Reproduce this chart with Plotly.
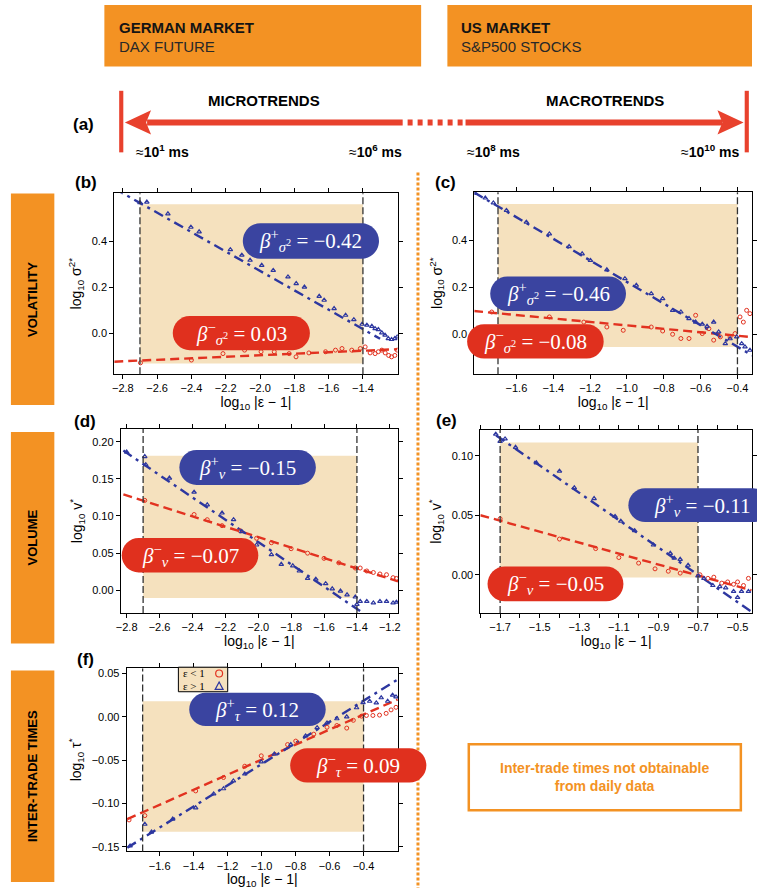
import plotly.graph_objects as go

W, H = 757, 889

# ---------------- data ----------------
# panel (b) German volatility
b_plus_x = [-2.70, -2.66, -2.537, -2.403, -2.355, -2.173, -2.106, -2.058, -1.99, -1.923, -1.837, -1.789, -1.741, -1.655, -1.626, -1.568, -1.501, -1.453, -1.405, -1.377, -1.348, -1.329, -1.31, -1.29, -1.271, -1.252, -1.233, -1.214, -1.2]
b_plus_y = [0.566, 0.569, 0.518, 0.46, 0.44, 0.363, 0.339, 0.317, 0.295, 0.273, 0.245, 0.216, 0.201, 0.161, 0.144, 0.108, 0.079, 0.06, 0.04, 0.036, 0.031, 0.021, 0.017, 0.003, -0.007, -0.022, -0.026, -0.022, -0.015]
b_minus_x = [-2.697, -2.4, -2.216, -2.09, -1.994, -1.917, -1.83, -1.79, -1.715, -1.618, -1.56, -1.522, -1.465, -1.415, -1.387, -1.358, -1.329, -1.31, -1.29, -1.27, -1.25, -1.233, -1.214, -1.2]
b_minus_y = [-0.127, -0.115, -0.087, -0.072, -0.079, -0.079, -0.087, -0.101, -0.084, -0.079, -0.072, -0.065, -0.072, -0.065, -0.058, -0.084, -0.087, -0.079, -0.072, -0.084, -0.095, -0.101, -0.095, -0.072]
b_fit_plus_x = [-2.85, -1.3]
b_fit_plus_y = [0.628, -0.023]
b_fit_minus_x = [-2.85, -1.2]
b_fit_minus_y = [-0.122, -0.068]

# panel (c) US volatility
c_plus_x = [-1.823, -1.769, -1.725, -1.654, -1.546, -1.421, -1.314, -1.243, -1.198, -1.109, -1.011, -0.949, -0.868, -0.806, -0.752, -0.707, -0.663, -0.627, -0.591, -0.565, -0.529, -0.502, -0.466, -0.44, -0.404, -0.377, -0.359, -0.332]
c_plus_y = [0.601, 0.581, 0.56, 0.528, 0.478, 0.428, 0.374, 0.343, 0.315, 0.275, 0.237, 0.209, 0.173, 0.152, 0.102, 0.095, 0.067, 0.052, 0.043, 0.034, 0.052, 0.01, -0.04, -0.019, -0.011, -0.04, -0.054, -0.068]
c_minus_x = [-1.734, -1.421, -1.234, -1.109, -1.02, -0.868, -0.806, -0.752, -0.707, -0.663, -0.627, -0.591, -0.555, -0.529, -0.493, -0.44, -0.413, -0.386, -0.368, -0.35, -0.332]
c_minus_y = [0.095, 0.074, 0.052, 0.031, 0.017, 0.031, 0.014, 0.0, -0.018, -0.018, 0.081, 0.003, 0.024, -0.025, -0.011, -0.011, 0.003, 0.074, 0.052, 0.102, 0.088]
c_fit_plus_x = [-1.83, -0.32]
c_fit_plus_y = [0.605, -0.09]
c_fit_minus_x = [-1.83, -0.32]
c_fit_minus_y = [0.099, -0.012]

# panel (d) German volume
d_plus_x = [-2.8, -2.69, -2.684, -2.54, -2.39, -2.31, -2.22, -2.15, -2.1, -2.01, -1.92, -1.86, -1.79, -1.75, -1.7, -1.65, -1.59, -1.55, -1.5, -1.46, -1.41, -1.4, -1.38, -1.34, -1.30, -1.26, -1.22, -1.18, -1.16]
d_plus_y = [0.186, 0.18, 0.169, 0.151, 0.132, 0.115, 0.104, 0.095, 0.079, 0.061, 0.048, 0.035, 0.033, 0.026, 0.016, 0.015, 0.009, 0.002, -0.001, -0.006, -0.009, -0.019, -0.015, -0.015, -0.017, -0.015, -0.015, -0.017, -0.016]
d_minus_x = [-2.69, -2.39, -2.31, -2.22, -2.11, -2.01, -1.92, -1.80, -1.70, -1.60, -1.51, -1.41, -1.38, -1.34, -1.30, -1.26, -1.22, -1.18, -1.16]
d_minus_y = [0.121, 0.102, 0.095, 0.087, 0.08, 0.07, 0.064, 0.056, 0.05, 0.043, 0.037, 0.03, 0.03, 0.026, 0.024, 0.022, 0.021, 0.017, 0.016]
d_fit_plus_x = [-2.82, -1.3]
d_fit_plus_y = [0.188, -0.040]
d_fit_minus_x = [-2.82, -1.15]
d_fit_minus_y = [0.129, 0.012]

# panel (e) US volume
e_plus_x = [-1.722, -1.70, -1.675, -1.622, -1.517, -1.40, -1.325, -1.225, -1.119, -1.09, -1.02, -0.925, -0.84, -0.82, -0.79, -0.75, -0.70, -0.67, -0.625, -0.59, -0.56, -0.52, -0.50, -0.48, -0.445]
e_plus_y = [0.118, 0.112, 0.114, 0.107, 0.094, 0.087, 0.073, 0.064, 0.049, 0.045, 0.037, 0.025, 0.018, 0.014, 0.013, 0.008, -0.001, -0.003, -0.009, -0.01, -0.011, -0.014, -0.019, -0.014, -0.014]
e_minus_x = [-1.70, -1.40, -1.217, -1.10, -1.0, -0.917, -0.85, -0.79, -0.69, -0.65, -0.62, -0.58, -0.55, -0.52, -0.50, -0.47, -0.445]
e_minus_y = [0.047, 0.030, 0.022, 0.0145, 0.0098, 0.005, 0.003, 0.0014, 0.0, -0.003, -0.002, -0.007, -0.006, -0.008, -0.006, -0.009, -0.003]
e_fit_plus_x = [-1.72, -0.43]
e_fit_plus_y = [0.117, -0.031]
e_fit_minus_x = [-1.8, -0.43]
e_fit_minus_y = [0.050, -0.013]

# panel (f) German inter-trade times
f_plus_x = [-1.774, -1.687, -1.648, -1.523, -1.388, -1.282, -1.224, -1.166, -1.099, -1.002, -0.925, -0.828, -0.741, -0.673, -0.615, -0.557, -0.499, -0.441, -0.403, -0.364, -0.325, -0.296, -0.258, -0.229, -0.209]
f_plus_y = [-0.149, -0.124, -0.133, -0.118, -0.105, -0.089, -0.083, -0.074, -0.066, -0.052, -0.043, -0.032, -0.022, -0.0125, -0.007, -0.0022, 0.0, 0.0105, 0.0163, 0.018, 0.016, 0.022, 0.018, 0.025, 0.023]
f_minus_x = [-1.78, -1.687, -1.388, -1.224, -1.099, -1.002, -0.847, -0.799, -0.693, -0.615, -0.557, -0.499, -0.46, -0.412, -0.383, -0.345, -0.306, -0.267, -0.238, -0.209]
f_minus_y = [-0.119, -0.114, -0.0855, -0.070, -0.057, -0.045, -0.032, -0.028, -0.020, -0.012, -0.010, -0.013, -0.004, 0.0008, 0.0016, 0.0016, 0.002, 0.004, 0.008, 0.011]
f_fit_plus_x = [-1.79, -0.2]
f_fit_plus_y = [-0.151, 0.043]
f_fit_minus_x = [-1.79, -0.2]
f_fit_minus_y = [-0.118, 0.020]

# fit ranges (x) and shaded band (y)
fit_range = {"b": [-2.7, -1.4], "c": [-1.7, -0.4], "d": [-2.7, -1.4], "e": [-1.7, -0.7], "f": [-1.7, -0.4]}
band_y = {"b": [-0.13, 0.56], "c": [-0.054, 0.556], "d": [-0.0103, 0.181], "e": [-0.0023, 0.111], "f": [-0.1327, 0.018]}

# tick values
x_ticks = {
    "b": [-2.8, -2.6, -2.4, -2.2, -2.0, -1.8, -1.6, -1.4],
    "c": [-1.6, -1.4, -1.2, -1.0, -0.8, -0.6, -0.4],
    "d": [-2.8, -2.6, -2.4, -2.2, -2.0, -1.8, -1.6, -1.4, -1.2],
    "e": [-1.7, -1.5, -1.3, -1.1, -0.9, -0.7, -0.5],
    "f": [-1.6, -1.4, -1.2, -1.0, -0.8, -0.6, -0.4],
}
e_minor_ticks = [-1.8, -1.6, -1.4, -1.2, -1.0, -0.8, -0.6]
y_ticks = {
    "b": [0.0, 0.2, 0.4],
    "c": [0.0, 0.2, 0.4],
    "d": [0.0, 0.05, 0.10, 0.15, 0.20],
    "e": [0.0, 0.05, 0.10],
    "f": [-0.15, -0.10, -0.05, 0.0, 0.05],
}

# exponent labels
beta_plus = {"b": "−0.42", "c": "−0.46", "d": "−0.15", "e": "−0.11", "f": "0.12"}
beta_minus = {"b": "0.03", "c": "−0.08", "d": "−0.07", "e": "−0.05", "f": "0.09"}
beta_sub = {"b": "<i>σ</i><sup>2</sup>", "c": "<i>σ</i><sup>2</sup>", "d": "<i>v</i>", "e": "<i>v</i>", "f": "<i>τ</i>"}

# header / label text
header_titles = ["GERMAN MARKET", "US MARKET"]
header_subs = ["DAX FUTURE", "S&P500 STOCKS"]
row_labels = ["VOLATILITY", "VOLUME", "INTER-TRADE TIMES"]
time_labels = ["≈<b>10<sup>1</sup> ms</b>", "≈<b>10<sup>6</sup> ms</b>", "≈<b>10<sup>8</sup> ms</b>", "≈<b>10<sup>10</sup> ms</b>"]

# ---------------- style ----------------
BLUE = "rgb(45,55,160)"
RED = "rgb(226,50,32)"
PILL_BLUE = "rgb(58,68,160)"
PILL_RED = "rgb(224,48,30)"
SHADE = "rgb(245,225,190)"
ORANGE = "rgb(243,146,35)"
ARROW = "rgb(232,65,45)"
SANS = "Liberation Sans"
SERIF = "Liberation Serif"


def X(px):
    return px / W


def Y(py):
    return 1 - py / H


def fmt(v, nd):
    s = ("%." + str(nd) + "f") % abs(v)
    return ("−" + s) if v < -1e-9 else s


# panel geometry in pixels: (x0, x1, y0, y1)
panels = {
    "b": dict(px=(110.7, 398.0, 192.7, 374.0), xr=[-2.85, -1.197], yr=[-0.176, 0.607], ax="", ynd=1),
    "c": dict(px=(475.7, 757.0, 191.7, 374.0), xr=[-1.828, -0.321], yr=[-0.170, 0.6055], ax="2", ynd=1),
    "d": dict(px=(117.3, 398.3, 429.0, 613.3), xr=[-2.836, -1.15], yr=[-0.0304, 0.217], ax="3", ynd=2),
    "e": dict(px=(481.7, 757.0, 430.0, 613.3), xr=[-1.8, -0.427], yr=[-0.032, 0.1215], ax="4", ynd=2),
    "f": dict(px=(123.3, 398.3, 669.0, 852.3), xr=[-1.794, -0.197], yr=[-0.1553, 0.0558], ax="5", ynd=2),
}

series = {
    "b": (b_plus_x, b_plus_y, b_minus_x, b_minus_y, b_fit_plus_x, b_fit_plus_y, b_fit_minus_x, b_fit_minus_y),
    "c": (c_plus_x, c_plus_y, c_minus_x, c_minus_y, c_fit_plus_x, c_fit_plus_y, c_fit_minus_x, c_fit_minus_y),
    "d": (d_plus_x, d_plus_y, d_minus_x, d_minus_y, d_fit_plus_x, d_fit_plus_y, d_fit_minus_x, d_fit_minus_y),
    "e": (e_plus_x, e_plus_y, e_minus_x, e_minus_y, e_fit_plus_x, e_fit_plus_y, e_fit_minus_x, e_fit_minus_y),
    "f": (f_plus_x, f_plus_y, f_minus_x, f_minus_y, f_fit_plus_x, f_fit_plus_y, f_fit_minus_x, f_fit_minus_y),
}

fig = go.Figure()
shapes = []
annotations = []

for key, p in panels.items():
    ax = p["ax"]
    px_, py_, mx, my, fpx, fpy, fmx, fmy = series[key]
    xa, ya = "x" + ax, "y" + ax
    fig.add_trace(go.Scatter(x=fmx, y=fmy, mode="lines", xaxis=xa, yaxis=ya,
                             line=dict(color=RED, width=2.4, dash="9px,5px"), showlegend=False))
    fig.add_trace(go.Scatter(x=fpx, y=fpy, mode="lines", xaxis=xa, yaxis=ya,
                             line=dict(color=BLUE, width=2.4, dash="10px,5px,3px,5px"), showlegend=False))
    fig.add_trace(go.Scatter(x=mx, y=my, mode="markers", xaxis=xa, yaxis=ya,
                             marker=dict(symbol="circle-open", size=4, color=RED, line=dict(width=1)),
                             showlegend=False))
    fig.add_trace(go.Scatter(x=px_, y=py_, mode="markers", xaxis=xa, yaxis=ya,
                             marker=dict(symbol="triangle-up-open", size=4, color=BLUE, line=dict(width=1.2)),
                             showlegend=False))
    shapes.append(dict(type="rect", xref=xa, yref=ya, x0=fit_range[key][0], x1=fit_range[key][1],
                       y0=band_y[key][0], y1=band_y[key][1], fillcolor=SHADE, line=dict(width=0), layer="below"))
    for xv in fit_range[key]:
        shapes.append(dict(type="line", xref=xa, yref=ya + " domain", x0=xv, x1=xv, y0=0, y1=1,
                           line=dict(color="rgb(50,50,50)", width=1.3, dash="7px,3px"), layer="above"))

# ---------------- axes ----------------
common = dict(showline=True, linecolor="black", linewidth=1, mirror="ticks", ticks="outside",
              ticklen=4, tickcolor="black", tickwidth=1, showgrid=False, zeroline=False,
              tickfont=dict(family=SANS, size=11, color="black"))
xtitle = "log<sub>10</sub> |ε − 1|"
ytitles = {"b": "log<sub>10</sub> σ<sup>2*</sup>", "c": "log<sub>10</sub> σ<sup>2*</sup>",
           "d": "log<sub>10</sub> v<sup>*</sup>", "e": "log<sub>10</sub> v<sup>*</sup>",
           "f": "log<sub>10</sub> τ<sup>*</sup>"}

layout_axes = {}
for key, p in panels.items():
    ax = p["ax"]
    x0, x1, y0, y1 = p["px"]
    xd = dict(common, domain=[X(x0), min(X(x1), 1.0)], range=p["xr"], anchor="y" + ax,
              tickmode="array", tickvals=x_ticks[key], ticktext=[fmt(v, 1) for v in x_ticks[key]],
              title=dict(text=xtitle, font=dict(family=SANS, size=14, color="black"), standoff=2))
    if key == "e":
        xd["minor"] = dict(tickmode="array", tickvals=e_minor_ticks, ticks="outside", ticklen=4,
                           tickcolor="black", showgrid=False)
    yd = dict(common, domain=[Y(y1), Y(y0)], range=p["yr"], anchor="x" + ax,
              tickmode="array", tickvals=y_ticks[key], ticktext=[fmt(v, p["ynd"]) for v in y_ticks[key]],
              title=dict(text=ytitles[key], font=dict(family=SANS, size=14, color="black"), standoff=6))
    layout_axes["xaxis" + ax] = xd
    layout_axes["yaxis" + ax] = yd


# ---------------- decorations ----------------
def rect_px(x0, x1, y0, y1, fill=None, line=None, layer="above"):
    d = dict(type="rect", xref="paper", yref="paper", x0=X(x0), x1=X(x1), y0=Y(y1), y1=Y(y0),
             layer=layer)
    d["fillcolor"] = fill if fill else "rgba(0,0,0,0)"
    d["line"] = line if line else dict(width=0)
    return d


def path_px(cmds):
    out = []
    for c in cmds:
        if c[0] == "Z":
            out.append("Z")
        else:
            pts = c[1:]
            s = " ".join("%.5f,%.5f" % (X(pts[i]), Y(pts[i + 1])) for i in range(0, len(pts), 2))
            out.append(c[0] + " " + s)
    return " ".join(out)


def pill(x0, x1, y0, y1, color):
    r = (y1 - y0) / 2
    k = 0.5523 * r
    cy = (y0 + y1) / 2
    cxr = x1 - r
    cxl = x0 + r
    cmds = [
        ("M", cxl, y0), ("L", cxr, y0),
        ("C", cxr + k, y0, x1, cy - k, x1, cy),
        ("C", x1, cy + k, cxr + k, y1, cxr, y1),
        ("L", cxl, y1),
        ("C", cxl - k, y1, x0, cy + k, x0, cy),
        ("C", x0, cy - k, cxl - k, y0, cxl, y0),
        ("Z",),
    ]
    return dict(type="path", xref="paper", yref="paper", path=path_px(cmds), fillcolor=color,
                line=dict(width=0), layer="above")


def text_px(x, y, text, size, color="black", family=SANS, xanchor="center", yanchor="middle", angle=0):
    return dict(xref="paper", yref="paper", x=X(x), y=Y(y), text=text, showarrow=False,
                xanchor=xanchor, yanchor=yanchor, textangle=angle,
                font=dict(family=family, size=size, color=color))


pill_boxes = {
    "b": ((241, 379, 222.7, 258.3), (170, 309, 315.7, 350)),
    "c": ((491.7, 629.3, 276, 310.7), (468.3, 606.7, 324, 358.3)),
    "d": ((176.7, 315, 450, 485), (118.3, 256.7, 538.3, 572.7)),
    "e": ((631.7, 775, 488.3, 522.3), (489, 626.7, 566.7, 601.7)),
    "f": ((186.7, 325, 693.3, 726.7), (289, 427, 749, 783.3)),
}
for key, (bp, bm) in pill_boxes.items():
    shapes.append(pill(*bp, PILL_BLUE))
    shapes.append(pill(*bm, PILL_RED))
    tp = "<i>β</i><sup>+</sup><sub>%s</sub> = %s" % (beta_sub[key], beta_plus[key])
    tm = "<i>β</i><sup>−</sup><sub>%s</sub> = %s" % (beta_sub[key], beta_minus[key])
    cxp = (bp[0] + bp[1]) / 2 if key != "e" else 706
    annotations.append(text_px(cxp, (bp[2] + bp[3]) / 2, tp, 21, "white", SERIF))
    annotations.append(text_px((bm[0] + bm[1]) / 2, (bm[2] + bm[3]) / 2, tm, 21, "white", SERIF))

# header boxes
shapes.append(rect_px(100.7, 421.7, 4, 65.7, fill=ORANGE, layer="below"))
shapes.append(rect_px(448.3, 757, 4, 65.7, fill=ORANGE, layer="below"))
for i, xl in enumerate([113, 460]):
    annotations.append(text_px(xl, 27, "<b>%s</b>" % header_titles[i], 15, "rgb(20,20,20)", SANS, xanchor="left"))
    annotations.append(text_px(xl, 46, header_subs[i], 15, "rgb(40,40,40)", SANS, xanchor="left"))

# arrow (a)
shapes.append(rect_px(115.7, 119.9, 90, 151.7, fill=ARROW))
shapes.append(rect_px(749.6, 753.8, 90, 151.7, fill=ARROW))
shapes.append(rect_px(144, 403, 118.7, 124.7, fill=ARROW))
shapes.append(rect_px(466.7, 727, 118.7, 124.7, fill=ARROW))
shapes.append(dict(type="line", xref="paper", yref="paper", x0=X(408), x1=X(466), y0=Y(121.7), y1=Y(121.7),
                   line=dict(color=ARROW, width=6, dash="5px,5px")))
shapes.append(dict(type="path", xref="paper", yref="paper",
                   path=path_px([("M", 121.5, 121.7), ("L", 148, 109.5), ("L", 143, 121.7), ("L", 148, 133.9), ("Z",)]),
                   fillcolor=ARROW, line=dict(width=0)))
shapes.append(dict(type="path", xref="paper", yref="paper",
                   path=path_px([("M", 748.5, 121.7), ("L", 722, 109.5), ("L", 727, 121.7), ("L", 722, 133.9), ("Z",)]),
                   fillcolor=ARROW, line=dict(width=0)))
annotations.append(text_px(80, 124, "<b>(a)</b>", 17))
annotations.append(text_px(262, 100, "<b>MICROTRENDS</b>", 15))
annotations.append(text_px(608, 100, "<b>MACROTRENDS</b>", 15))
annotations.append(text_px(131, 150, time_labels[0], 14, xanchor="left"))
annotations.append(text_px(404, 150, time_labels[1], 14, xanchor="right"))
annotations.append(text_px(466, 150, time_labels[2], 14, xanchor="left"))
annotations.append(text_px(747, 150, time_labels[3], 14, xanchor="right"))

# panel letters
for lbl, (x, y) in {"(b)": (82, 182), "(c)": (446, 182), "(d)": (81, 421), "(e)": (447, 420), "(f)": (82, 660)}.items():
    annotations.append(text_px(x, y, "<b>%s</b>" % lbl, 17))

# left row boxes
for (y0, y1), lbl in zip([(193, 405), (432, 644), (671, 883)], row_labels):
    shapes.append(rect_px(6, 50, y0, y1, fill=ORANGE, layer="below"))
    annotations.append(text_px(28, (y0 + y1) / 2, "<b>%s</b>" % lbl, 13, "black", SANS, angle=-90))

# vertical orange dotted divider
shapes.append(dict(type="line", xref="paper", yref="paper", x0=X(418.5), x1=X(418.5), y0=Y(172), y1=0,
                   line=dict(color=ORANGE, width=3, dash="3px,2px"), layer="below"))

# bottom right box
shapes.append(rect_px(470, 745.7, 745, 811, line=dict(color=ORANGE, width=2.5)))
annotations.append(text_px(608, 777.5, "<b>Inter-trade times not obtainable<br>from daily data</b>", 14, ORANGE))

# legend in (f)
shapes.append(rect_px(175.7, 225.7, 667.7, 692.3, fill=SHADE, line=dict(color="black", width=1)))
annotations.append(text_px(178.5, 674, "ε < 1", 11, "black", SERIF, xanchor="left"))
annotations.append(text_px(178.5, 686.5, "ε > 1", 11, "black", SERIF, xanchor="left"))
shapes.append(dict(type="circle", xref="paper", yref="paper", x0=X(213.5), x1=X(220.5), y0=Y(677.5), y1=Y(670.5),
                   line=dict(color=RED, width=1.2), layer="above"))
shapes.append(dict(type="path", xref="paper", yref="paper",
                   path=path_px([("M", 213, 690), ("L", 221, 690), ("L", 217, 682.5), ("Z",)]),
                   line=dict(color=BLUE, width=1.2), layer="above"))

fig.update_layout(
    width=W, height=H, margin=dict(l=0, r=0, t=0, b=0),
    paper_bgcolor="white", plot_bgcolor="rgba(0,0,0,0)",
    showlegend=False, shapes=shapes, annotations=annotations,
    font=dict(family=SANS, color="black"),
    **layout_axes,
)

fig.write_html("out.html", config={"displayModeBar": False},
               post_script="document.body.style.margin='0px';document.body.style.overflow='hidden';")
